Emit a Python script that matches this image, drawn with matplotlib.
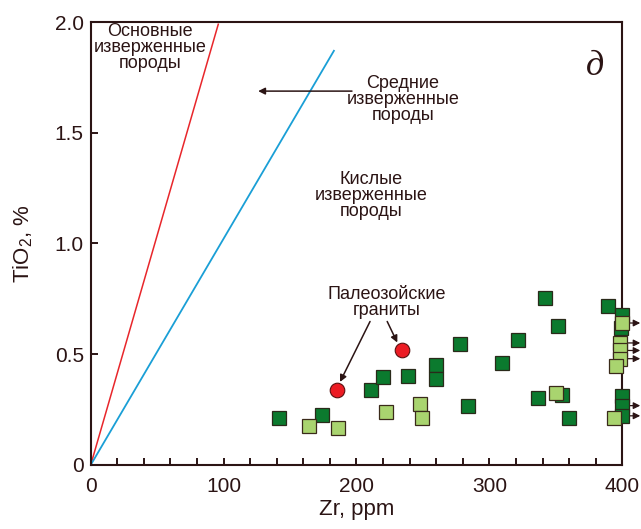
import numpy as np
import matplotlib
matplotlib.use('Agg')
import matplotlib.pyplot as plt

plt.rcParams['font.family'] = ['Liberation Sans', 'DejaVu Sans']
plt.rcParams['mathtext.fontset'] = 'custom'
plt.rcParams['mathtext.rm'] = 'Liberation Sans'

# boundary lines
basic_zr = [0, 96]
basic_ti = [0, 1.99]
inter_zr = [0, 183]
inter_ti = [0, 1.87]

# dark green squares
dark_zr = [141.8, 173.8, 210.8, 220, 238.8, 259.8, 259.8, 278, 283.6, 309.3, 321.8,
           336.3, 341.9, 352, 354.5, 360, 389, 400, 399, 400, 400, 400]
dark_ti = [0.211, 0.226, 0.338, 0.397, 0.40, 0.452, 0.388, 0.546, 0.267, 0.46, 0.566,
           0.302, 0.754, 0.626, 0.317, 0.211, 0.716, 0.679, 0.618, 0.312, 0.268, 0.222]

# light green squares
light_zr = [164.3, 186.3, 222.3, 247.6, 249.4, 349.8, 400, 398, 398, 398, 395.5, 394]
light_ti = [0.178, 0.166, 0.237, 0.275, 0.214, 0.324, 0.641, 0.551, 0.517, 0.478, 0.448, 0.211]

# palaeozoic granites
red_zr = [185.1, 234]
red_ti = [0.339, 0.517]

# samples with Zr > 400
over_ti = [0.641, 0.551, 0.517, 0.48, 0.268, 0.222]

ink = '#2b1414'

fig = plt.figure(figsize=(6.41, 5.29), dpi=100)
ax = fig.add_axes([0.1415, 0.121, 0.8293, 0.8374])

ax.plot(basic_zr, basic_ti, color='#e8262b', lw=1.1)
ax.plot(inter_zr, inter_ti, color='#1a9fd6', lw=1.3)

ax.plot(dark_zr, dark_ti, 's', ms=9.4, mfc='#0b7a2e', mec='#2a2a1a', mew=0.9, ls='none', clip_on=False, zorder=3)
ax.plot(light_zr, light_ti, 's', ms=9.4, mfc='#a9d46f', mec='#3a2a1a', mew=0.9, ls='none', clip_on=False, zorder=4)
ax.plot(red_zr, red_ti, 'o', ms=10.5, mfc='#ec1c24', mec='#5a1010', mew=0.8, ls='none', zorder=4)

for t in over_ti:
    ax.annotate('', xy=(413.5, t), xytext=(400, t), annotation_clip=False,
                arrowprops=dict(arrowstyle='-|>', color=ink, lw=0.9, mutation_scale=10,
                                shrinkA=0, shrinkB=0), zorder=2)

tkw = dict(color=ink, fontsize=13, ha='center', va='center', linespacing=0.92)
ax.text(44.7, 1.885, 'Основные\nизверженные\nпороды', **tkw)
ax.text(235, 1.652, 'Средние\nизверженные\nпороды', **tkw)
ax.text(210.7, 1.217, 'Кислые\nизверженные\nпороды', **tkw)
ax.text(222.7, 0.735, 'Палеозойские\nграниты', **tkw)

akw = dict(arrowstyle='-|>', color=ink, lw=1.1, mutation_scale=10, shrinkA=0, shrinkB=0)
ax.annotate('', xy=(126, 1.688), xytext=(196.6, 1.688), arrowprops=akw)
ax.annotate('', xy=(187.6, 0.375), xytext=(210.2, 0.648), arrowprops=akw)
ax.annotate('', xy=(230.7, 0.553), xytext=(223.1, 0.648), arrowprops=akw)

ax.text(0.948, 0.90, 'д', transform=ax.transAxes, fontsize=26, style='italic',
        family=['Liberation Serif', 'DejaVu Serif'], color=ink, ha='center', va='center')

ax.set_xlim(0, 400)
ax.set_ylim(0, 2.0)
ax.set_xticks(np.arange(0, 401, 100))
ax.set_xticks(np.arange(0, 401, 20), minor=True)
ax.set_yticks([0, 0.5, 1.0, 1.5, 2.0])
ax.set_yticklabels(['0', '0.5', '1.0', '1.5', '2.0'])
ax.tick_params(axis='both', which='both', direction='in', length=5, width=1.4, color=ink,
               labelcolor=ink, labelsize=15)
ax.tick_params(axis='x', which='both', pad=9)
ax.tick_params(axis='y', which='both', pad=5)

for s in ax.spines.values():
    s.set_color(ink)
    s.set_linewidth(1.5)

ax.set_xlabel('Zr, ppm', fontsize=16, color=ink, labelpad=2)
ax.set_ylabel('TiO$_2$, %', fontsize=16, color=ink, labelpad=14)

fig.savefig('out.png', dpi=100)
